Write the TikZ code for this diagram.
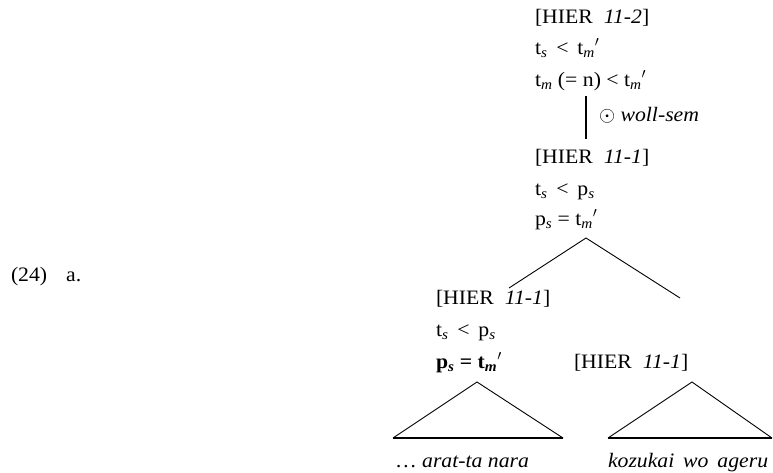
\documentclass[tikz,border=0pt]{standalone}
\usepackage{fontspec}
\setmainfont{Liberation Serif}[FakeStretch=1.06]
\begin{document}
\begin{tikzpicture}[x=1pt,y=-1pt,
  lbl/.style={anchor=base west,inner sep=0pt,outer sep=0pt,font=\fontsize{20.5}{24}\selectfont},
  stem/.style={line width=2.2pt},
  branch/.style={line width=0.9pt},
  base/.style={line width=1.8pt}]
\useasboundingbox (0,0) rectangle (773,472);
\newcommand{\sub}[1]{\textsubscript{\itshape #1}}
\newcommand{\prm}{$'$}
% example number
\node[lbl] (num) at (11,281) {(24)\hspace{19pt}a.};
% top feature block
\node[lbl] (h2) at (535,23) {[HIER\ \ \textit{11-2}]};
\node[lbl] (h2a) at (535,54) {t\sub{s} \,<\, t\sub{m}\prm};
\node[lbl] (h2b) at (535,86) {t\sub{m} (= n) < t\sub{m}\prm};
% unary step
\coordinate (st) at (586,96);
\coordinate (sb) at (586,139);
\draw[stem] (st) -- (sb);
\node[lbl] (ws) at (599,121) {$\odot$\ \textit{woll-sem}};
% middle feature block
\node[lbl] (h1) at (535,163) {[HIER\ \ \textit{11-1}]};
\node[lbl] (h1a) at (535,195) {t\sub{s} \,<\, p\sub{s}};
\node[lbl] (h1b) at (535,225) {p\sub{s} = t\sub{m}\prm};
% binary branching
\coordinate (apex) at (586,238);
\coordinate (lft) at (509,288);
\coordinate (rgt) at (680,298);
\draw[branch] (lft) -- (apex) -- (rgt);
% left daughter
\node[lbl] (l1) at (436,304) {[HIER\ \ \textit{11-1}]};
\node[lbl] (l1a) at (436,336) {t\sub{s} \,<\, p\sub{s}};
\node[lbl] (l1b) at (436,368) {\textbf{p\textsubscript{\textit{s}} = t\textsubscript{\textit{m}}}\prm};
% right daughter
\node[lbl] (r1) at (574,368) {[HIER\ \ \textit{11-1}]};
% triangles
\coordinate (ta) at (477,382);
\coordinate (tl) at (393,438);
\coordinate (tr) at (563,438);
\draw[branch] (tl) -- (ta) -- (tr);
\draw[base] (tl) -- (tr);
\coordinate (ua) at (692,382);
\coordinate (ul) at (608,438);
\coordinate (ur) at (772,438);
\draw[branch] (ul) -- (ua) -- (ur);
\draw[base] (ul) -- (ur);
% terminal strings
\node[lbl] (w1) at (395,467) {\ldots\ \textit{arat-ta nara}};
\node[lbl] (w2) at (608,467) {\textit{kozukai\ \,wo\ \,ageru}};
\end{tikzpicture}
\end{document}
